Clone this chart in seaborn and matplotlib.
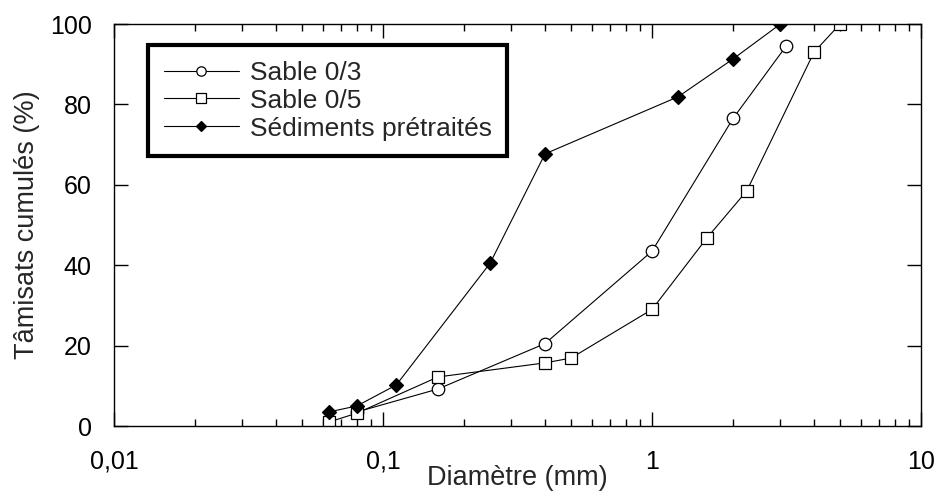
import matplotlib
matplotlib.use("Agg")
import matplotlib.pyplot as plt
import seaborn as sns
import pandas as pd
from matplotlib.ticker import FixedLocator, FixedFormatter, LogLocator, NullFormatter

# Data
sable03_x = [0.08, 0.16, 0.4, 1.0, 2.0, 3.15]
sable03_y = [3.5, 9.2, 20.5, 43.5, 76.5, 94.5]

sable05_x = [0.063, 0.08, 0.16, 0.4, 0.5, 1.0, 1.6, 2.25, 4.0, 5.0]
sable05_y = [1.0, 3.2, 12.2, 15.7, 16.9, 29.0, 46.8, 58.5, 93.0, 100.0]

sed_x = [0.063, 0.08, 0.112, 0.25, 0.4, 1.25, 2.0, 3.0]
sed_y = [3.5, 5.0, 10.2, 40.5, 67.7, 81.9, 91.3, 100.0]

labels = ["Sable 0/3", "Sable 0/5", "Sédiments prétraités"]
x_ticks = [0.01, 0.1, 1, 10]
x_tick_labels = ["0,01", "0,1", "1", "10"]
y_ticks = [0, 20, 40, 60, 80, 100]

sns.set_style("ticks")
plt.rcParams['font.family'] = ['Liberation Sans', 'DejaVu Sans']

fig = plt.figure(figsize=(9.37, 4.93), dpi=100)
ax = fig.add_axes([0.1217, 0.1359, 0.8613, 0.8154])

series = [
    (sable03_x, sable03_y, labels[0], 'o', 'white', 9.0),
    (sable05_x, sable05_y, labels[1], 's', 'white', 9.0),
    (sed_x, sed_y, labels[2], 'D', 'black', 7.0),
]
for xs, ys, lab, mk, mfc, ms in series:
    df = pd.DataFrame({"x": xs, "y": ys})
    sns.lineplot(data=df, x="x", y="y", ax=ax, color="black", linewidth=0.8,
                 marker=mk, markersize=ms, markerfacecolor=mfc,
                 markeredgecolor="black", markeredgewidth=0.9, label=lab)

ax.set_xscale("log")
ax.set_xlim(0.01, 10)
ax.set_ylim(0, 100)
ax.xaxis.set_major_locator(FixedLocator(x_ticks))
ax.xaxis.set_major_formatter(FixedFormatter(x_tick_labels))
ax.xaxis.set_minor_locator(LogLocator(base=10, subs=range(2, 10)))
ax.xaxis.set_minor_formatter(NullFormatter())
ax.set_yticks(y_ticks)
ax.set_yticklabels([str(v) for v in y_ticks])

ax.tick_params(which="both", direction="in", top=True, right=True, colors="black")
ax.tick_params(which="major", length=10, width=1, labelsize=18)
ax.tick_params(axis="x", which="major", pad=17)
ax.tick_params(axis="y", which="major", pad=16)
ax.tick_params(which="minor", length=5, width=1)
ax.tick_params(axis="y", which="minor", left=False, right=False)

for sp in ax.spines.values():
    sp.set_color("black")
    sp.set_linewidth(1.0)

ax.set_xlabel("Diamètre (mm)", fontsize=19.5, labelpad=-6)
ax.set_ylabel("Tâmisats cumulés (%)", fontsize=19.5, labelpad=7)

# Legend
handles, lbls = ax.get_legend_handles_labels()
leg = ax.legend(handles, lbls, loc="upper left", bbox_to_anchor=(0.042, 0.948),
                borderaxespad=0, fontsize=19, frameon=True, fancybox=False,
                edgecolor="black", framealpha=1, handlelength=2.85,
                labelspacing=0.15, handletextpad=0.4, borderpad=0.6, markerscale=0.75)
leg.get_frame().set_linewidth(3)

fig.savefig("out.png", dpi=100)
